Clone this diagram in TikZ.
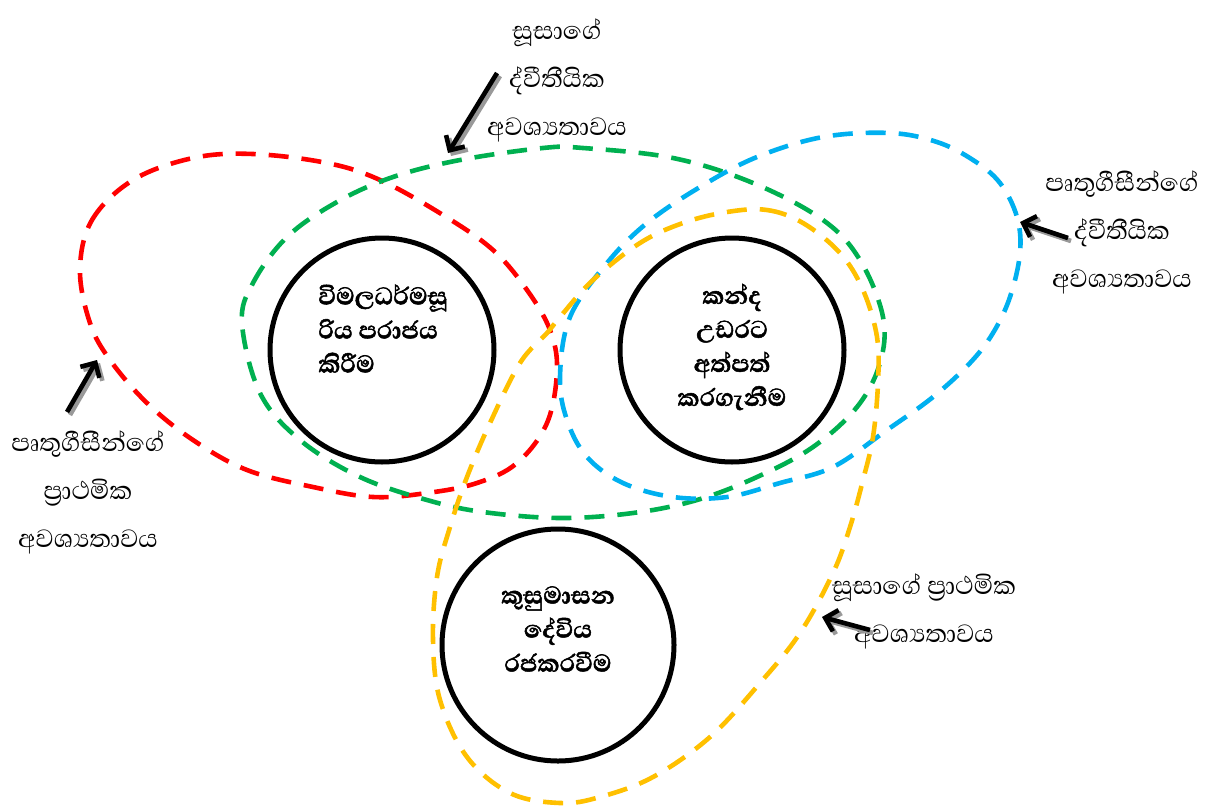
\documentclass[tikz,border=0pt]{standalone}
\usepackage{fontspec}
\newfontfamily\sinhfont[Script=Sinhala]{Abhaya Libre}
\newfontfamily\sinhbold[Script=Sinhala, BoldFeatures={FakeBold=1.6}]{Abhaya Libre}
\usetikzlibrary{arrows.meta}
\definecolor{cred}{HTML}{FF0000}
\definecolor{cgreen}{HTML}{00B050}
\definecolor{cblue}{HTML}{00B0F0}
\definecolor{cyellow}{HTML}{FFC000}
\begin{document}
\begin{tikzpicture}[x=0.5pt,y=-0.5pt,
  region/.style={line width=2.3pt, dash pattern=on 10pt off 6.5pt},
  topic/.style={circle, draw=black, line width=2.5pt, minimum size=112pt, inner sep=0pt},
  topictext/.style={font=\sinhbold\bfseries\fontsize{15.5}{17}\selectfont, align=center},
  label/.style={font=\sinhfont\fontsize{16}{24}\selectfont, align=center},
  pointer/.style={line width=2.3pt, -{Straight Barb[length=5.5pt,width=11pt,line width=2.3pt]}},
  pshadow/.style={pointer, draw=black!40},
]
\useasboundingbox (0,0) rectangle (1216,809);

% regions
\draw[region, cred] plot[smooth cycle, tension=0.6] coordinates {
 (80,270) (92,220) (133,180) (193,158) (253,154) (327,163) (380,180) (443,215)
 (493,250) (527,290) (550,330) (557,370) (547,423) (517,463) (477,483) (427,493)
 (373,497) (313,487) (247,470) (193,440) (147,403) (110,360) (90,323)};
\draw[region, cgreen] plot[smooth cycle, tension=0.6] coordinates {
 (242,323) (253,283) (287,237) (337,202) (393,177) (460,160) (543,148) (583,148)
 (673,158) (753,183) (823,220) (860,260) (883,317) (880,363) (857,407) (813,447)
 (757,477) (697,500) (633,513) (560,518) (483,512) (427,500) (360,477) (300,440) (260,393)};
\draw[region, cblue] plot[smooth cycle, tension=0.6] coordinates {
 (560,377) (570,317) (607,263) (647,223) (700,187) (757,157) (823,137) (890,133)
 (937,142) (973,160) (1000,183) (1017,217) (1020,253) (1010,297) (993,333) (970,363)
 (933,397) (887,430) (833,467) (780,483) (727,497) (673,497) (623,483) (587,457) (567,420)};
\draw[region, cyellow] plot[smooth cycle, tension=0.6] coordinates {
 (727,212) (767,210) (803,223) (840,253) (863,290) (877,337) (878,383) (873,437)
 (863,480) (850,527) (833,573) (800,633) (760,683) (710,737) (653,777) (600,797)
 (560,803) (510,793) (467,757) (440,700) (433,640) (437,577) (450,527) (467,477)
 (490,423) (520,363) (547,333) (560,317) (593,280) (640,243) (683,223)};

% topics
\node[topic] (c1) at (382,350) {};
\node[topictext, align=left, anchor=north west, inner sep=0pt] (t1) at (318,284)
  {විමලධර්මසූ\\රිය පරාජය\\කිරීම};
\node[topic] (c2) at (732,350) {};
\node[topictext] (t2) at (732,347) {කන්ද\\උඩරට\\අත්පත්\\කරගැනීම};
\node[topic, minimum size=116pt] (c3) at (558,645) {};
\node[topictext] (t3) at (558,629) {කුසුමාසන\\දේවිය\\රජකරවීම};

% labels
\node[label] (lt) at (557,80) {සූසාගේ\\ද්වීතීයික\\අවශ්^^^^200dයතාවය};
\node[label] (lr) at (1122,232) {පෘතුගීසීන්ගේ\\ද්වීතීයික\\අවශ්^^^^200dයතාවය};
\node[label] (ll) at (88,492) {පෘතුගීසීන්ගේ\\ප්^^^^200dරාථමික\\අවශ්^^^^200dයතාවය};
\node[label] (lb) at (924,611) {සූසාගේ ප්^^^^200dරාථමික\\අවශ්^^^^200dයතාවය};

% pointers
\coordinate (a1s) at (497,73);  \coordinate (a1e) at (448,153);
\coordinate (a2s) at (1068,238); \coordinate (a2e) at (1020,222);
\coordinate (a3s) at (67,412);  \coordinate (a3e) at (97,360);
\coordinate (a4s) at (870,630); \coordinate (a4e) at (822,617);
\foreach \s/\e in {a1s/a1e, a2s/a2e, a3s/a3e, a4s/a4e}{
  \draw[pshadow, transform canvas={shift={(1.5pt,-1.5pt)}}] (\s) -- (\e);
  \draw[pointer] (\s) -- (\e);
}
\end{tikzpicture}
\end{document}
